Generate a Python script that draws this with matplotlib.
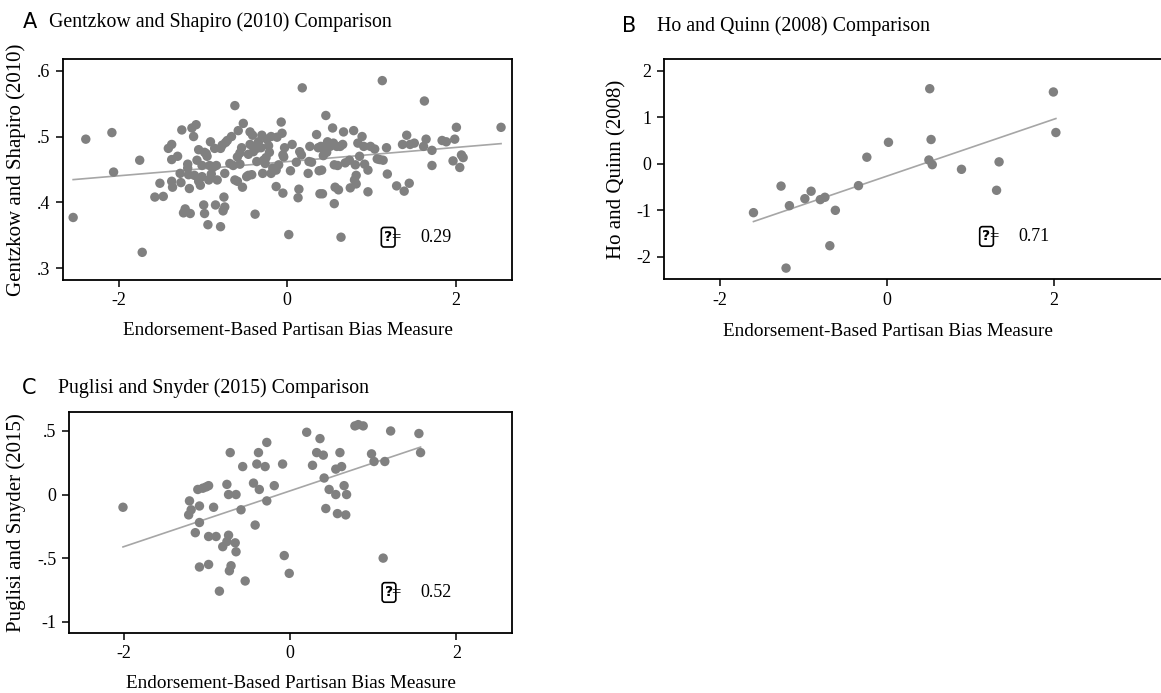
import numpy as np
import matplotlib
matplotlib.use('Agg')
import matplotlib.pyplot as plt

plt.rcParams['font.family'] = ['Liberation Serif', 'DejaVu Serif']

# panel A: Gentzkow and Shapiro (2010)
gs_x = [-2.54, -2.39, -2.08, -2.06, -1.75, -1.72, -1.57, -1.51, -1.47, -1.41,
        -1.37, -1.37, -1.37, -1.36, -1.30, -1.26, -1.27, -1.25, -1.23, -1.21,
        -1.18, -1.18, -1.17, -1.16, -1.15, -1.13, -1.11, -1.08, -1.10, -1.07,
        -1.05, -1.05, -1.03, -1.01, -1.01, -0.99, -0.98, -0.98, -0.96, -0.95,
        -0.94, -0.93, -0.92, -0.91, -0.90, -0.88, -0.86, -0.85, -0.84, -0.83,
        -0.79, -0.79, -0.77, -0.76, -0.75, -0.74, -0.74, -0.73, -0.71, -0.68,
        -0.66, -0.64, -0.62, -0.62, -0.59, -0.59, -0.58, -0.56, -0.56, -0.54,
        -0.53, -0.52, -0.48, -0.46, -0.46, -0.44, -0.44, -0.42, -0.41, -0.40,
        -0.39, -0.38, -0.36, -0.36, -0.34, -0.31, -0.30, -0.29, -0.28, -0.26,
        -0.25, -0.24, -0.22, -0.21, -0.19, -0.19, -0.17, -0.13, -0.13, -0.12,
        -0.10, -0.07, -0.06, -0.05, -0.05, -0.03, -0.04, 0.02, 0.04, 0.06,
        0.11, 0.13, 0.14, 0.15, 0.17, 0.18, 0.25, 0.26, 0.27, 0.29,
        0.35, 0.37, 0.38, 0.39, 0.40, 0.41, 0.42, 0.43, 0.44, 0.45,
        0.46, 0.47, 0.48, 0.51, 0.54, 0.55, 0.56, 0.56, 0.57, 0.59,
        0.60, 0.61, 0.63, 0.64, 0.66, 0.67, 0.69, 0.74, 0.75, 0.79,
        0.80, 0.81, 0.82, 0.82, 0.84, 0.86, 0.89, 0.91, 0.92, 0.96,
        0.96, 0.99, 1.04, 1.07, 1.10, 1.13, 1.14, 1.18, 1.19, 1.30,
        1.37, 1.39, 1.42, 1.45, 1.46, 1.51, 1.63, 1.62, 1.65, 1.72,
        1.72, 1.84, 1.89, 1.97, 1.99, 2.01, 2.05, 2.07, 2.09, 2.54]
gs_y = [0.377, 0.496, 0.506, 0.446, 0.464, 0.324, 0.408, 0.429, 0.409, 0.482,
        0.488, 0.465, 0.432, 0.423, 0.470, 0.430, 0.444, 0.510, 0.384, 0.390,
        0.458, 0.452, 0.442, 0.421, 0.383, 0.513, 0.500, 0.518, 0.441, 0.464,
        0.480, 0.432, 0.426, 0.439, 0.456, 0.396, 0.383, 0.476, 0.474, 0.470,
        0.366, 0.434, 0.456, 0.492, 0.443, 0.453, 0.482, 0.396, 0.456, 0.434,
        0.363, 0.482, 0.487, 0.387, 0.408, 0.444, 0.393, 0.491, 0.494, 0.459,
        0.500, 0.456, 0.547, 0.434, 0.432, 0.469, 0.509, 0.475, 0.458, 0.483,
        0.423, 0.520, 0.439, 0.473, 0.441, 0.507, 0.488, 0.442, 0.502, 0.477,
        0.483, 0.382, 0.462, 0.482, 0.492, 0.483, 0.502, 0.444, 0.464, 0.459,
        0.468, 0.496, 0.486, 0.476, 0.444, 0.500, 0.452, 0.424, 0.449, 0.499,
        0.457, 0.522, 0.505, 0.472, 0.414, 0.483, 0.469, 0.351, 0.448, 0.488,
        0.461, 0.407, 0.420, 0.477, 0.472, 0.574, 0.444, 0.462, 0.485, 0.461,
        0.503, 0.483, 0.448, 0.413, 0.485, 0.449, 0.413, 0.471, 0.480, 0.485,
        0.532, 0.476, 0.492, 0.485, 0.513, 0.490, 0.457, 0.398, 0.423, 0.485,
        0.456, 0.419, 0.485, 0.347, 0.488, 0.507, 0.460, 0.464, 0.422, 0.509,
        0.434, 0.457, 0.428, 0.441, 0.490, 0.470, 0.500, 0.485, 0.458, 0.416,
        0.449, 0.485, 0.481, 0.466, 0.465, 0.585, 0.464, 0.483, 0.443, 0.425,
        0.488, 0.417, 0.502, 0.429, 0.488, 0.490, 0.554, 0.485, 0.496, 0.456,
        0.479, 0.494, 0.492, 0.463, 0.496, 0.514, 0.453, 0.472, 0.468, 0.514]

# panel B: Ho and Quinn (2008)
hq_x = [-1.60, -1.27, -1.17, -1.21, -0.985, -0.91, -0.80, -0.745, -0.686, -0.62,
        -0.343, -0.243, 0.016, 0.51, 0.526, 0.50, 0.54, 0.89, 1.31, 1.34,
        1.99, 2.02]
hq_y = [-1.05, -0.48, -0.90, -2.24, -0.75, -0.59, -0.77, -0.72, -1.76, -1.00,
        -0.47, 0.14, 0.46, 1.61, 0.52, 0.08, -0.02, -0.12, -0.57, 0.04,
        1.54, 0.67]

# panel C: Puglisi and Snyder (2015)
ps_x = [-2.01, -1.21, -1.19, -1.22, -1.11, -1.09, -1.05, -1.01, -0.98, -1.09,
        -1.14, -0.98, -1.09, -0.98, -0.92, -0.89, -0.81, -0.76, -0.74, -0.74,
        -0.76, -0.72, -0.71, -0.73, -0.66, -0.65, -0.65, -0.59, -0.57, -0.85,
        -0.54, -0.44, -0.42, -0.40, -0.38, -0.37, -0.30, -0.28, -0.28, -0.19,
        -0.09, -0.07, -0.01, 0.20, 0.27, 0.32, 0.36, 0.40, 0.41, 0.43,
        0.47, 0.55, 0.55, 0.57, 0.60, 0.62, 0.65, 0.68, 0.67, 0.78,
        0.82, 0.88, 0.98, 1.01, 1.14, 1.12, 1.21, 1.55, 1.57]
ps_y = [-0.10, -0.05, -0.12, -0.16, 0.04, -0.09, 0.05, 0.06, 0.07, -0.22,
        -0.30, -0.33, -0.57, -0.55, -0.10, -0.33, -0.41, 0.08, 0.00, -0.32,
        -0.37, 0.33, -0.56, -0.60, -0.38, -0.45, 0.00, -0.12, 0.22, -0.76,
        -0.68, 0.09, -0.24, 0.24, 0.33, 0.04, 0.22, 0.41, -0.05, 0.07,
        0.24, -0.48, -0.62, 0.49, 0.23, 0.33, 0.44, 0.31, 0.13, -0.11,
        0.04, 0.20, 0.00, -0.15, 0.33, 0.22, 0.07, 0.00, -0.16, 0.54,
        0.55, 0.54, 0.32, 0.26, 0.26, -0.50, 0.50, 0.48, 0.33]

rho = ['0.29', '0.71', '0.52']
titles = ['Gentzkow and Shapiro (2010) Comparison',
          'Ho and Quinn (2008) Comparison',
          'Puglisi and Snyder (2015) Comparison']
ylabels = ['Gentzkow and Shapiro (2010)', 'Ho and Quinn (2008)',
           'Puglisi and Snyder (2015)']
xlabel = 'Endorsement-Based Partisan Bias Measure'

DOT = '#808080'
LINE = '#a6a6a6'


def scatterPanel(ax, x, y, ylab, yticks, yticklabels, ylim, xlim, rhoText, rhoPos):
    x = np.array(x)
    y = np.array(y)
    ax.scatter(x, y, s=46, color=DOT, edgecolors='none', zorder=3)
    b, a = np.polyfit(x, y, 1)
    xs = np.array([x.min(), x.max()])
    ax.plot(xs, a + b * xs, color=LINE, lw=1.2, zorder=2)
    ax.set_xlim(xlim)
    ax.set_ylim(ylim)
    ax.set_xticks([-2, 0, 2])
    ax.set_xticklabels(['-2', '0', '2'])
    ax.set_yticks(yticks)
    ax.set_yticklabels(yticklabels)
    ax.tick_params(direction='out', length=5, width=1.1, labelsize=13, pad=4)
    for s in ax.spines.values():
        s.set_linewidth(1.3)
    ax.set_xlabel(xlabel, fontsize=13.8, labelpad=9)
    ax.set_ylabel(ylab, fontsize=15)
    # correlation note (the rho glyph was missing in the original)
    ax.text(rhoPos[0], rhoPos[1], '?', fontsize=10, ha='center', va='center',
            family='DejaVu Sans', fontweight='bold',
            bbox=dict(boxstyle='round,pad=0.2', fc='none', ec='black', lw=1.2))
    ax.text(rhoPos[0] + 0.03, rhoPos[1], '=', fontsize=12, ha='left', va='center')
    ax.text(rhoPos[0] + 0.38, rhoPos[1], rhoText, fontsize=13, ha='left', va='center')


fig = plt.figure(figsize=(11.61, 6.93), dpi=100)

axA = fig.add_axes([0.0543, 0.596, 0.3867, 0.319])
scatterPanel(axA, gs_x, gs_y, ylabels[0], [0.3, 0.4, 0.5, 0.6], ['.3', '.4', '.5', '.6'],
             (0.282, 0.618), (-2.66, 2.67), rho[0], (1.20, 0.347))
axA.yaxis.set_label_coords(-0.082, 0.5)

axB = fig.add_axes([0.572, 0.597, 0.431, 0.318])
scatterPanel(axB, hq_x, hq_y, ylabels[1], [-2, -1, 0, 1, 2], ['-2', '-1', '0', '1', '2'],
             (-2.48, 2.25), (-2.67, 3.32), rho[1], (1.19, -1.56))
axB.xaxis.set_label_coords(0.4466, -0.20)
axB.yaxis.set_label_coords(-0.076, 0.5)

axC = fig.add_axes([0.0594, 0.0866, 0.3816, 0.319])
scatterPanel(axC, ps_x, ps_y, ylabels[2], [-1, -0.5, 0, 0.5], ['-1', '-.5', '0', '.5'],
             (-1.089, 0.65), (-2.66, 2.67), rho[2], (1.19, -0.77))
axC.yaxis.set_label_coords(-0.097, 0.5)

fig.text(0.020, 0.968, 'A', family='DejaVu Sans', fontsize=15, va='center')
fig.text(0.042, 0.968, titles[0], fontsize=14.3, va='center')
fig.text(0.536, 0.963, 'B', family='DejaVu Sans', fontsize=15, va='center')
fig.text(0.566, 0.963, titles[1], fontsize=14.3, va='center')
fig.text(0.019, 0.44, 'C', family='DejaVu Sans', fontsize=15, va='center')
fig.text(0.050, 0.44, titles[2], fontsize=14.3, va='center')

fig.savefig('out.png', dpi=100)
